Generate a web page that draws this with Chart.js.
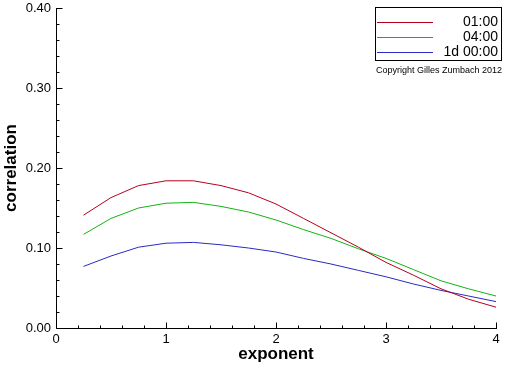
<!DOCTYPE html>
<html>
<head>
<meta charset="utf-8">
<script src="https://cdn.jsdelivr.net/npm/chart.js@4.4.0/dist/chart.umd.min.js"></script>
<style>
  html, body { margin: 0; padding: 0; background: #fff; }
</style>
</head>
<body>
<canvas id="chart" width="512" height="366"></canvas>
<script>
// ==== data ====
const exponents = [0.25, 0.5, 0.75, 1.0, 1.25, 1.5, 1.75, 2.0, 2.25, 2.5, 2.75, 3.0, 3.25, 3.5, 3.75, 4.0];
const corr0100 = [0.141, 0.163, 0.178, 0.184, 0.184, 0.178, 0.169, 0.155, 0.137, 0.119, 0.101, 0.082, 0.066, 0.049, 0.036, 0.026];
const corr0400 = [0.117, 0.137, 0.150, 0.156, 0.157, 0.152, 0.145, 0.135, 0.123, 0.112, 0.099, 0.087, 0.073, 0.059, 0.049, 0.040];
const corr1d = [0.077, 0.090, 0.101, 0.106, 0.107, 0.104, 0.100, 0.095, 0.087, 0.080, 0.072, 0.064, 0.055, 0.047, 0.040, 0.033];
const seriesLabels = ['01:00', '04:00', '1d 00:00'];
const seriesColors = ['#b4001e', '#12b412', '#2a2ac4'];
const copyright = 'Copyright Gilles Zumbach 2012';

const tickFont = { family: 'Liberation Sans', size: 13 };
const titleFont = { family: 'Liberation Sans', size: 17, weight: 'bold' };

function toPoints(values) {
  return exponents.map((e, i) => ({ x: e, y: values[i] }));
}

// inward ticks, plain axis lines, and the boxed legend
const axesPlugin = {
  id: 'axes',
  afterDraw(chart) {
    const { ctx, chartArea: a, scales: { x, y } } = chart;
    ctx.save();
    ctx.strokeStyle = '#000';
    ctx.lineWidth = 1;
    const x0 = Math.round(a.left) + 0.5;
    const y0 = Math.round(a.bottom) + 0.5;
    ctx.beginPath();
    ctx.moveTo(x0, Math.round(a.top));
    ctx.lineTo(x0, y0);
    ctx.lineTo(Math.round(a.right) + 1, y0);
    for (let i = 0; i <= 20; i++) {
      const py = Math.round(y.getPixelForValue(i * 0.02)) + 0.5;
      const len = i % 5 === 0 ? 6 : 3;
      ctx.moveTo(x0, py);
      ctx.lineTo(x0 + len, py);
      const px = Math.round(x.getPixelForValue(i * 0.2)) + 0.5;
      ctx.moveTo(px, y0);
      ctx.lineTo(px, y0 - len);
    }
    ctx.stroke();

    // legend
    ctx.strokeRect(375.5, 7.5, 126, 53);
    ctx.font = '14px "Liberation Sans"';
    ctx.textAlign = 'right';
    ctx.textBaseline = 'middle';
    chart.data.datasets.forEach((ds, i) => {
      const ly = 22 + i * 15 + 0.5;
      ctx.strokeStyle = ds.borderColor;
      ctx.beginPath();
      ctx.moveTo(377, ly);
      ctx.lineTo(433, ly);
      ctx.stroke();
      ctx.fillStyle = '#000';
      ctx.fillText(ds.label, 498, ly);
    });
    ctx.font = '9px "Liberation Sans"';
    ctx.textAlign = 'center';
    ctx.fillText(copyright, 439, 71);
    ctx.restore();
  }
};

new Chart(document.getElementById('chart'), {
  type: 'line',
  data: {
    datasets: [corr0100, corr0400, corr1d].map((vals, i) => ({
      label: seriesLabels[i],
      data: toPoints(vals),
      borderColor: seriesColors[i],
      borderWidth: 1,
      pointRadius: 0,
      tension: 0,
      fill: false
    }))
  },
  options: {
    responsive: false,
    animation: false,
    layout: { padding: { top: 8, right: 16, left: 0, bottom: 0 } },
    plugins: { legend: { display: false }, tooltip: { enabled: false } },
    scales: {
      x: {
        type: 'linear',
        min: 0, max: 4,
        grid: { display: false, drawTicks: false },
        border: { display: false },
        ticks: { stepSize: 1, color: '#000', font: tickFont, padding: 4, maxRotation: 0 },
        title: { display: true, text: 'exponent', color: '#000', font: titleFont, padding: { top: 0, bottom: 1 } },
        afterFit(scale) { scale.height = 38; scale.paddingLeft = 0; scale.paddingRight = 0; }
      },
      y: {
        min: 0, max: 0.4,
        grid: { display: false, drawTicks: false },
        border: { display: false },
        ticks: { stepSize: 0.1, color: '#000', font: tickFont, padding: 5, callback: v => v.toFixed(2) },
        title: { display: true, text: 'correlation', color: '#000', font: titleFont, padding: { top: 1, bottom: 0 } },
        afterFit(scale) { scale.width = 56; scale.paddingTop = 0; scale.paddingBottom = 0; }
      }
    }
  },
  plugins: [axesPlugin]
});
</script>
</body>
</html>
